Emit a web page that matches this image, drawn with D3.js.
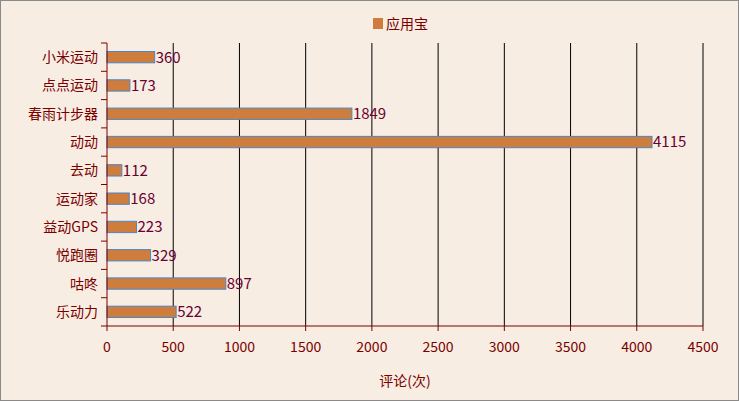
<!DOCTYPE html>
<html><head><meta charset="utf-8">
<script src="https://cdn.jsdelivr.net/npm/d3@7"></script>
<style>body{margin:0;background:#fff}svg{display:block}</style>
</head><body>
<script>
const categories = ["小米运动","点点运动","春雨计步器","动动","去动","运动家","益动GPS","悦跑圈","咕咚","乐动力"];
const values = [360,173,1849,4115,112,168,223,329,897,522];
const xTicks = [0,500,1000,1500,2000,2500,3000,3500,4000,4500];
const seriesName = "应用宝";

(() => {
const W = 739, H = 401;
const svg = d3.select("body").append("svg").attr("width", W).attr("height", H);
svg.append("rect").attr("x",0.5).attr("y",0.5).attr("width",W-1).attr("height",H-1)
    .attr("fill","#f8ede3").attr("stroke","#8a8a8a");

const pL = 107, pR = 703, pT = 43, pB = 326;
const x = d3.scaleLinear().domain([0,4500]).range([pL,pR]);
const y = d3.scaleBand().domain(categories).range([pT,pB]).paddingInner(0.6).paddingOuter(0.3);
const band = d3.scaleBand().domain(categories).range([pT,pB]);
const red = "#7a0000";
const font = "'Noto Sans CJK SC', sans-serif";

// gridlines
svg.append("g").selectAll("line").data(xTicks.slice(1)).join("line")
    .attr("x1",d=>x(d)).attr("x2",d=>x(d)).attr("y1",pT).attr("y2",pB)
    .attr("stroke","#000").attr("stroke-width",1);

// bars
svg.append("g").selectAll("rect").data(values).join("rect")
    .attr("x",x(0)).attr("y",(d,i)=>y(categories[i]))
    .attr("width",d=>x(d)-x(0)).attr("height",y.bandwidth())
    .attr("fill","#cf7d3c").attr("stroke","#4a86c8").attr("stroke-width",1);

svg.append("g").selectAll("text").data(values).join("text")
    .attr("x",d=>x(d)+1).attr("y",(d,i)=>y(categories[i])+y.bandwidth()/2)
    .attr("dy","0.36em").attr("font-family",font).attr("font-size",15)
    .attr("fill","#6a0030").text(d=>d);

// axes
const ax = svg.append("g").attr("stroke",red);
ax.append("line").attr("x1",pL).attr("x2",pL).attr("y1",pT).attr("y2",pB);
ax.append("line").attr("x1",pL).attr("x2",pR).attr("y1",pB).attr("y2",pB);
ax.selectAll(".yt").data(categories.map(c=>band(c)).concat([pB])).join("line")
    .attr("x1",pL-6).attr("x2",pL).attr("y1",d=>d).attr("y2",d=>d);
ax.selectAll(".xt").data(xTicks).join("line")
    .attr("x1",d=>x(d)).attr("x2",d=>x(d)).attr("y1",pB).attr("y2",pB+5);

svg.append("g").selectAll("text").data(categories).join("text")
    .attr("x",pL-9).attr("y",d=>band(d)+band.bandwidth()/2).attr("dy","0.36em")
    .attr("text-anchor","end").attr("font-family",font).attr("font-size",14)
    .attr("fill",red).text(d=>d);

svg.append("g").selectAll("text").data(xTicks).join("text")
    .attr("x",d=>x(d)).attr("y",pB+26).attr("text-anchor","middle")
    .attr("font-family",font).attr("font-size",14).attr("fill",red).text(d=>d);

svg.append("text").attr("x",(pL+pR)/2).attr("y",386).attr("text-anchor","middle")
    .attr("font-family",font).attr("font-size",14).attr("fill",red).text("评论(次)");

// legend
svg.append("rect").attr("x",373).attr("y",18).attr("width",10).attr("height",11).attr("fill","#cf7d3c");
svg.append("text").attr("x",386).attr("y",29).attr("font-family",font).attr("font-size",14)
    .attr("fill",red).text(seriesName);
})();
</script>
</body></html>
